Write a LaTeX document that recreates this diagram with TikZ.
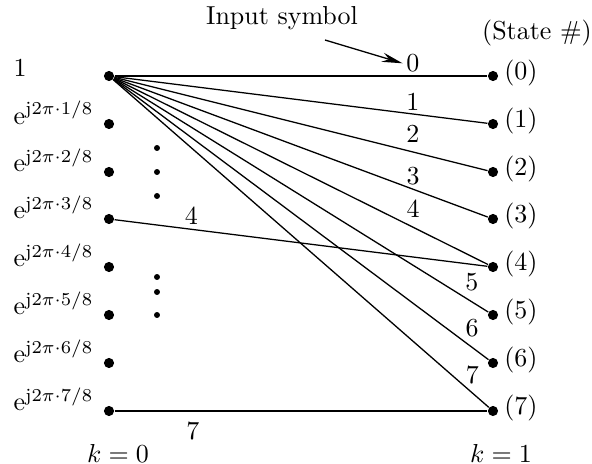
\documentclass[tikz,border=0pt]{standalone}
\usepackage{tikz}
\usetikzlibrary{positioning,arrows.meta}

\begin{document}
\begin{tikzpicture}[
    x=0.385pt, y=-0.385pt,
    bigdot/.style={circle, fill=black, inner sep=0pt, minimum size=3.9pt},
    smalldot/.style={circle, fill=black, inner sep=0pt, minimum size=2.3pt},
    inlabel/.style={anchor=base west, inner sep=0pt},
    statelabel/.style={inner sep=2pt, yshift=1.3pt},
    branch/.style={line width=0.5pt},
    symlabel/.style={inner sep=1.2pt},
    arrow/.style={-{Stealth[length=8pt, width=3.6pt]}, line width=0.5pt}
]
\useasboundingbox (0,0) rectangle (592,464);

% Column k = 0
\node[bigdot] (l0) at (109,76) {};
\node[bigdot] (l1) at (109,124) {};
\node[bigdot] (l2) at (109,172) {};
\node[bigdot] (l3) at (109,219) {};
\node[bigdot] (l4) at (109,267) {};
\node[bigdot] (l5) at (109,315) {};
\node[bigdot] (l6) at (109,363) {};
\node[bigdot] (l7) at (109,411) {};

% Column k = 1
\node[bigdot] (r0) at (493,76) {};
\node[bigdot] (r1) at (493,124) {};
\node[bigdot] (r2) at (493,172) {};
\node[bigdot] (r3) at (493,219) {};
\node[bigdot] (r4) at (493,267) {};
\node[bigdot] (r5) at (493,315) {};
\node[bigdot] (r6) at (493,363) {};
\node[bigdot] (r7) at (493,411) {};

% Phase labels
\node[inlabel] (e0) at (13,76) {1};
\node[inlabel] (e1) at (13,124) {$\mathrm{e}^{\mathrm{j}2\pi\cdot 1/8}$};
\node[inlabel] (e2) at (13,172) {$\mathrm{e}^{\mathrm{j}2\pi\cdot 2/8}$};
\node[inlabel] (e3) at (13,219) {$\mathrm{e}^{\mathrm{j}2\pi\cdot 3/8}$};
\node[inlabel] (e4) at (13,267) {$\mathrm{e}^{\mathrm{j}2\pi\cdot 4/8}$};
\node[inlabel] (e5) at (13,315) {$\mathrm{e}^{\mathrm{j}2\pi\cdot 5/8}$};
\node[inlabel] (e6) at (13,363) {$\mathrm{e}^{\mathrm{j}2\pi\cdot 6/8}$};
\node[inlabel] (e7) at (13,411) {$\mathrm{e}^{\mathrm{j}2\pi\cdot 7/8}$};

% State labels
\node[statelabel, right=0pt of r0] (s0) {(0)};
\node[statelabel, right=0pt of r1] (s1) {(1)};
\node[statelabel, right=0pt of r2] (s2) {(2)};
\node[statelabel, right=0pt of r3] (s3) {(3)};
\node[statelabel, right=0pt of r4] (s4) {(4)};
\node[statelabel, right=0pt of r5] (s5) {(5)};
\node[statelabel, right=0pt of r6] (s6) {(6)};
\node[statelabel, right=0pt of r7] (s7) {(7)};
\node (statehead) at (537,33) {(State \#)};

% Vertical dots
\node[smalldot] (v1) at (157,148) {};
\node[smalldot] (v2) at (157,172) {};
\node[smalldot] (v3) at (157,196) {};
\node[smalldot] (v4) at (157,277) {};
\node[smalldot] (v5) at (157,292) {};
\node[smalldot] (v6) at (157,315) {};

% Transitions with input symbols
\draw[branch] (l0) -- node[symlabel, pos=0.8, above] (sym0) {0} (r0);
\draw[branch] (l0) -- node[symlabel, pos=0.8, above] (sym1) {1} (r1);
\draw[branch] (l0) -- node[symlabel, pos=0.8, above, inner sep=3.5pt] (sym2) {2} (r2);
\draw[branch] (l0) -- node[symlabel, pos=0.8, above] (sym3) {3} (r3);
\draw[branch] (l0) -- node[symlabel, pos=0.8, above, inner sep=3.5pt] (sym4) {4} (r4);
\draw[branch] (l0) -- node[symlabel, pos=0.956, above, inner sep=4pt] (sym5) {5} (r5);
\draw[branch] (l0) -- node[symlabel, pos=0.956, above, inner sep=3.8pt] (sym6) {6} (r6);
\draw[branch] (l0) -- node[symlabel, pos=0.956, above, inner sep=3pt] (sym7) {7} (r7);
\draw[branch] (l3) -- node[symlabel, pos=0.206, above, inner sep=1.5pt] (sym34) {4} (r4);
\draw[branch] (l7) -- node[symlabel, pos=0.21, below, inner sep=4pt] (sym77) {7} (r7);

% Input symbol annotation
\node (insym) at (282,18) {Input symbol};
\coordinate (symtail) at (325,40);
\draw[arrow] (symtail) -- (sym0.west);

% Time indices
\node (k0) at (118,453) {$k=0$};
\node (k1) at (501,453) {$k=1$};

\end{tikzpicture}
\end{document}
